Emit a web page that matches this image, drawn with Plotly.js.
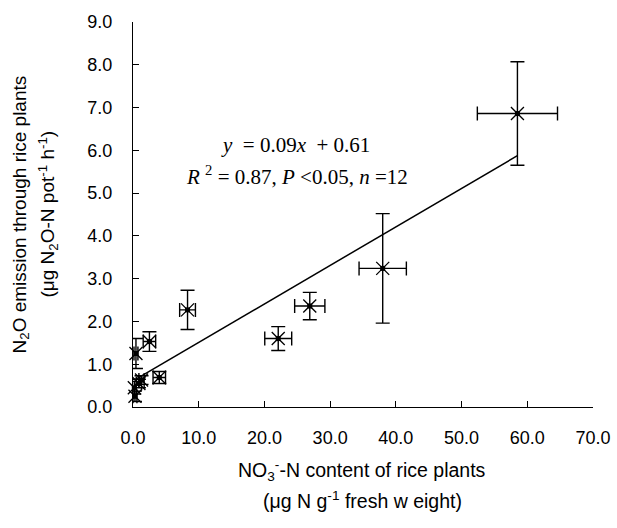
<!DOCTYPE html>
<html>
<head>
<meta charset="utf-8">
<script src="https://cdn.plot.ly/plotly-3.0.1.min.js"></script>
<style>
html,body{margin:0;padding:0;background:#fff;}
#chart{width:617px;height:528px;}
</style>
</head>
<body>
<div id="chart"></div>
<script>
// NO3--N content of rice plants (µg N g-1 fresh weight)
var no3 =     [0.3, 0.2, 0.9, 1.3, 0.45, 2.5, 4.0, 8.3, 22.1, 26.9, 38.0, 58.5];
var no3Err =  [0.3, 0.3, 0.4, 0.4, 0.3, 0.95, 0.95, 1.2, 2.05, 2.3, 3.6, 6.1];
// N2O emission through rice plants (µg N2O-N pot-1 h-1)
var n2o =     [0.25, 0.45, 0.55, 0.63, 1.25, 1.53, 0.69, 2.27, 1.60, 2.36, 3.24, 6.86];
var n2oErr =  [0.12, 0.15, 0.10, 0.10, 0.35, 0.23, 0.14, 0.46, 0.28, 0.32, 1.28, 1.21];
// regression y = 0.09x + 0.61
var slope = 0.09, intercept = 0.61;
var xTicks = [0, 10, 20, 30, 40, 50, 60, 70];
var yTicks = [0, 1, 2, 3, 4, 5, 6, 7, 8, 9];

var xmin = Math.min.apply(null, no3), xmax = Math.max.apply(null, no3);
var lineX = [xmin, xmax];
var lineY = lineX.map(function(v){ return slope * v + intercept; });

var traces = [
  {
    x: lineX, y: lineY, mode: 'lines', type: 'scatter',
    line: {color: '#000', width: 1.5}, hoverinfo: 'skip', showlegend: false
  },
  {
    x: no3, y: n2o, mode: 'markers', type: 'scatter', showlegend: false, cliponaxis: false,
    marker: {symbol: 'x-thin-open', size: 13, color: '#000', line: {color: '#000', width: 1.3}},
    error_x: {type: 'data', array: no3Err, visible: true, color: '#000', thickness: 1.4, width: 7},
    error_y: {type: 'data', array: n2oErr, visible: true, color: '#000', thickness: 1.4, width: 7}
  },
  {
    x: no3, y: n2o, mode: 'markers', type: 'scatter', showlegend: false, cliponaxis: false,
    marker: {symbol: 'square', size: 5, color: '#000'}
  }
];

var tickFont = {family: 'Liberation Sans, Arial, sans-serif', size: 18, color: '#000'};
var yTitleFont = {family: 'Liberation Sans, Arial, sans-serif', size: 19, color: '#000'};
var xTitleFont = {family: 'Liberation Sans, Arial, sans-serif', size: 19.5, color: '#000'};
var eqFont = {family: 'Liberation Serif, Times New Roman, serif', size: 21, color: '#000'};

var L = 133, R = 24, T = 22, B = 121;
var pw = 617 - L - R, ph = 528 - T - B;
function px2paperX(px){ return (px - L) / pw; }
function py2paperY(py){ return (528 - B - py) / ph; }

var layout = {
  width: 617, height: 528,
  margin: {l: L, r: R, t: T, b: B, pad: 0},
  paper_bgcolor: '#fff', plot_bgcolor: '#fff',
  showlegend: false,
  xaxis: {
    range: [0, 70], tickvals: xTicks, tickformat: '.1f',
    showgrid: false, zeroline: false, showline: true, linecolor: '#000', linewidth: 1.2,
    ticks: 'inside', ticklen: 6, tickcolor: '#000', tickwidth: 1.2,
    tickfont: tickFont, ticklabelstandoff: 14
  },
  yaxis: {
    range: [0, 9], tickvals: yTicks, tickformat: '.1f',
    showgrid: false, zeroline: false, showline: true, linecolor: '#000', linewidth: 1.2,
    ticks: 'inside', ticklen: 6, tickcolor: '#000', tickwidth: 1.2,
    tickfont: tickFont, ticklabelstandoff: 16
  },
  annotations: [
    {xref: 'paper', yref: 'paper', x: px2paperX(20), y: 0.5, xanchor: 'center', yanchor: 'middle',
     textangle: -90, showarrow: false, font: yTitleFont,
     text: 'N<sub>2</sub>O emission through rice plants'},
    {xref: 'paper', yref: 'paper', x: px2paperX(48), y: 0.5, xanchor: 'center', yanchor: 'middle',
     textangle: -90, showarrow: false, font: yTitleFont,
     text: '(μg N<sub>2</sub>O-N pot<sup>-1</sup> h<sup>-1</sup>)'},
    {xref: 'paper', yref: 'paper', x: px2paperX(362), y: py2paperY(470), xanchor: 'center', yanchor: 'middle',
     showarrow: false, font: xTitleFont,
     text: 'NO<sub>3</sub><sup>-</sup>-N content of rice plants'},
    {xref: 'paper', yref: 'paper', x: px2paperX(362), y: py2paperY(500), xanchor: 'center', yanchor: 'middle',
     showarrow: false, font: xTitleFont,
     text: '(μg N g<sup>-1</sup> fresh w eight)'},
    {xref: 'paper', yref: 'paper', x: px2paperX(295), y: py2paperY(145), xanchor: 'center', yanchor: 'middle',
     showarrow: false, font: eqFont,
     text: '<i>y</i>  = 0.09<i>x</i>  + 0.61'},
    {xref: 'paper', yref: 'paper', x: px2paperX(297), y: py2paperY(175), xanchor: 'center', yanchor: 'middle',
     showarrow: false, font: eqFont,
     text: '<i>R</i> <sup>2</sup> = 0.87, <i>P</i> &lt;0.05, <i>n</i> =12'}
  ]
};

Plotly.newPlot('chart', traces, layout, {displayModeBar: false, staticPlot: true});
</script>
</body>
</html>
